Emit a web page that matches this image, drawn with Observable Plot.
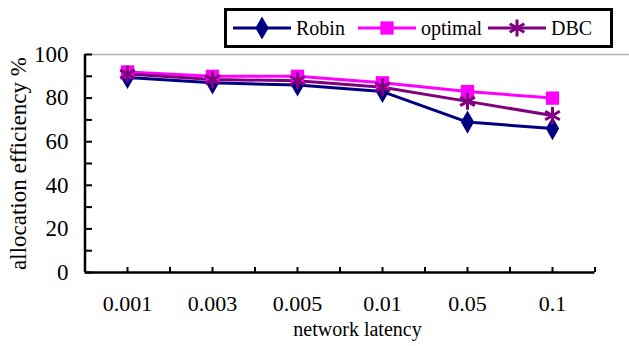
<!DOCTYPE html>
<html>
<head>
<meta charset="utf-8">
<script src="https://cdn.jsdelivr.net/npm/d3@7"></script>
<script src="https://cdn.jsdelivr.net/npm/@observablehq/plot@0.6"></script>
<style>
  html, body { margin: 0; padding: 0; background: white; }
  #wrap { position: relative; width: 629px; height: 346px; font-family: "Liberation Serif", serif; }
  #legend { position: absolute; left: 224px; top: 8px; width: 389px; height: 40px; box-sizing: border-box;
            border: 3px solid black; background: white; font-size: 20px; }
  #legend .item { position: absolute; top: 0; height: 34px; display: flex; align-items: center; }
  #legend svg { display: block; }
  #legend span { margin-left: 5px; }
</style>
</head>
<body>
<div id="wrap">
  <div id="chart"></div>
  <div id="legend"></div>
</div>
<script>
const categories = ["0.001", "0.003", "0.005", "0.01", "0.05", "0.1"];
const robin = [89.5, 87, 86, 83, 69, 66];
const optimal = [92, 90, 90, 87, 83, 80];
const dbc = [91, 88.5, 88, 85, 78.5, 72];
const seriesNames = ["Robin", "optimal", "DBC"];
const seriesColors = ["#000080", "#FF00FF", "#800080"];
const yTickLabels = [0, 20, 40, 60, 80, 100];
const yLabel = "allocation efficiency %";
const xLabel = "network latency";

const rows = (name, vals) => vals.map((v, i) => ({i, value: v, series: name}));
const rRobin = rows("Robin", robin);
const rOpt = rows("optimal", optimal);
const rDbc = rows("DBC", dbc);

const xDomain = [-0.5, categories.length - 0.5];
const halfTicks = d3.range(0, categories.length, 0.5);
const minorY = d3.range(0, 101, 10);

const chart = Plot.plot({
  width: 629,
  height: 346,
  marginLeft: 85,
  marginRight: 0,
  marginTop: 54,
  marginBottom: 74,
  style: {fontFamily: "'Liberation Serif', serif", fontSize: "21px", background: "white", color: "black", overflow: "visible"},
  x: {domain: xDomain, range: [84.5, 594.5]},
  y: {domain: [0, 100], range: [272, 54]},
  marks: [
    Plot.ruleY([100], {stroke: "#b0b0b0", strokeWidth: 1.5}),
    Plot.ruleY([0], {x1: xDomain[0], x2: xDomain[1], stroke: "black", strokeWidth: 2.5}),
    Plot.ruleX([xDomain[0]], {y1: 0, y2: 100, stroke: "black", strokeWidth: 2.5}),
    Plot.axisY(minorY, {tickSize: -7, strokeWidth: 2, tickFormat: () => "", label: null}),
    Plot.axisY(yTickLabels, {tickSize: 0, tickPadding: 17, fontSize: 23, label: null}),
    Plot.axisX(halfTicks, {tickSize: -5, strokeWidth: 2, tickFormat: () => "", label: null}),
    Plot.axisX(d3.range(categories.length), {tickSize: 0, tickPadding: 23, fontSize: 22, tickFormat: i => categories[i], label: null}),
    Plot.text([yLabel], {frameAnchor: "left", textAnchor: "middle", lineAnchor: "middle", rotate: -90, dx: -67, fontSize: 23}),
    Plot.text([xLabel], {frameAnchor: "bottom", textAnchor: "middle", lineAnchor: "middle", dy: 57, fontSize: 20}),
    Plot.line(rRobin, {x: "i", y: "value", stroke: seriesColors[0], strokeWidth: 3}),
    Plot.line(rOpt, {x: "i", y: "value", stroke: seriesColors[1], strokeWidth: 3}),
    Plot.line(rDbc, {x: "i", y: "value", stroke: seriesColors[2], strokeWidth: 3}),
    Plot.dot(rRobin, {x: "i", y: "value", symbol: "diamond", fill: seriesColors[0], r: 7}),
    Plot.dot(rOpt, {x: "i", y: "value", symbol: "square", fill: seriesColors[1], r: 7.5}),
    Plot.dot(rDbc, {x: "i", y: "value", symbol: "asterisk", stroke: seriesColors[2], strokeWidth: 3, r: 8})
  ]
});
document.getElementById("chart").appendChild(chart);

// legend
const legend = document.getElementById("legend");
const symbolTypes = [d3.symbolDiamond, d3.symbolSquare, d3.symbolAsterisk];
const symbolR = [7, 7.5, 8];
const lefts = [6, 131, 261];
seriesNames.forEach((name, k) => {
  const item = document.createElement("div");
  item.className = "item";
  item.style.left = lefts[k] + "px";
  const sym = d3.symbol(symbolTypes[k], Math.PI * symbolR[k] * symbolR[k])();
  const filled = k !== 2;
  item.innerHTML = `<svg width="58" height="22"><line x1="0" x2="58" y1="11" y2="11" stroke="${seriesColors[k]}" stroke-width="3"/>` +
    `<path transform="translate(29,11)" d="${sym}" fill="${filled ? seriesColors[k] : "none"}" stroke="${filled ? "none" : seriesColors[k]}" stroke-width="3"/></svg>` +
    `<span>${name}</span>`;
  legend.appendChild(item);
});
</script>
</body>
</html>
